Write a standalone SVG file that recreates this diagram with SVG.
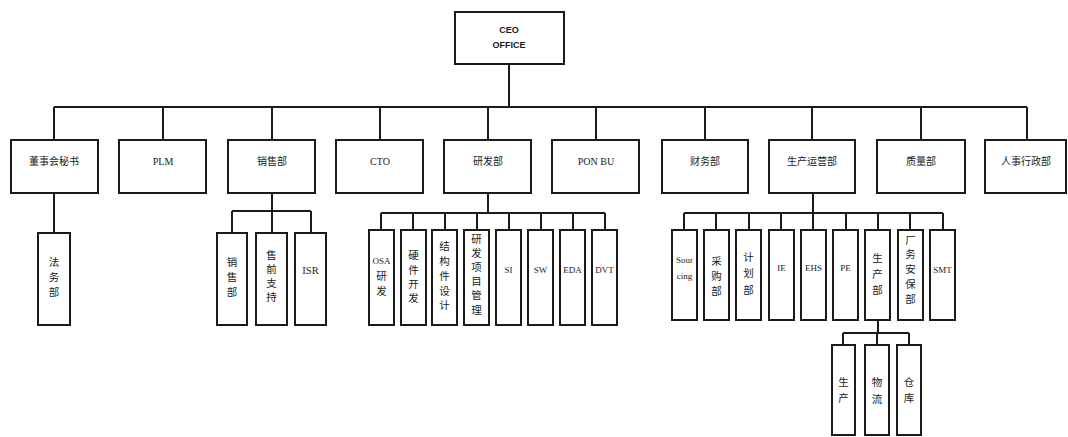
<svg xmlns="http://www.w3.org/2000/svg" width="1068" height="437" viewBox="0 0 1068 437">
<style>
.box{fill:#fff;stroke:#1a1a1a;stroke-width:2}
.ln{fill:none;stroke:#1a1a1a;stroke-width:2}
.t{font-family:"Liberation Serif","Noto Sans CJK SC",serif;font-size:10px;fill:#1a1a1a;text-anchor:middle;dominant-baseline:central}
.v{font-family:"Liberation Serif","Noto Sans CJK SC",serif;font-size:10.5px;fill:#1a1a1a;text-anchor:middle;dominant-baseline:central}
.s{font-size:9px}
.ceo{font-family:"Liberation Sans",sans-serif;font-size:9px;font-weight:bold;fill:#1a1a1a;text-anchor:middle;dominant-baseline:central}
</style>
<rect width="1068" height="437" fill="#fff"/>
<g id="connectors">
<path class="ln" d="M509 64V107M54 107H1027"/>
<path class="ln" d="M54 107V140M163 107V140M272 107V140M380 107V140M488 107V140M596 107V140M705 107V140M812 107V140M921 107V140M1027 107V140"/>
<path class="ln" d="M54 193V233"/>
<path class="ln" d="M272 193V211M232 211H311M232 211V233M272 211V233M311 211V233"/>
<path class="ln" d="M488 193V213M381 213H605M381 213V230M413 213V230M445 213V230M477 213V230M509 213V230M541 213V230M573 213V230M605 213V230"/>
<path class="ln" d="M813 193V213M684 213H943M684 213V230M716 213V230M749 213V230M781 213V230M813 213V230M846 213V230M878 213V230M910 213V230M943 213V230"/>
<path class="ln" d="M878 320V333M843 333H909M843 333V345M877 333V345M909 333V345"/>
</g>
<g id="ceo"><rect class="box" x="455" y="12" width="109" height="52"/><text class="ceo" x="509" y="30">CEO</text><text class="ceo" x="509" y="45">OFFICE</text></g>
<g id="n1"><rect class="box" x="11" y="140" width="87" height="53"/><text class="t" x="54" y="161">董事会秘书</text></g>
<g id="n2"><rect class="box" x="119" y="140" width="87" height="53"/><text class="t" x="163" y="161">PLM</text></g>
<g id="n3"><rect class="box" x="228" y="140" width="87" height="53"/><text class="t" x="272" y="161">销售部</text></g>
<g id="n4"><rect class="box" x="336" y="140" width="87" height="53"/><text class="t" x="380" y="161">CTO</text></g>
<g id="n5"><rect class="box" x="444" y="140" width="87" height="53"/><text class="t" x="488" y="161">研发部</text></g>
<g id="n6"><rect class="box" x="552" y="140" width="87" height="53"/><text class="t" x="596" y="161">PON BU</text></g>
<g id="n7"><rect class="box" x="662" y="140" width="86" height="53"/><text class="t" x="705" y="161">财务部</text></g>
<g id="n8"><rect class="box" x="769" y="140" width="86" height="53"/><text class="t" x="812" y="161">生产运营部</text></g>
<g id="n9"><rect class="box" x="877" y="140" width="88" height="53"/><text class="t" x="921" y="161">质量部</text></g>
<g id="n10"><rect class="box" x="985" y="140" width="81" height="53"/><text class="t" x="1026" y="161">人事行政部</text></g>
<g id="s-fw"><rect class="box" x="38" y="233" width="32" height="92"/><text class="v" x="54"><tspan x="54" y="262">法</tspan><tspan x="54" y="277">务</tspan><tspan x="54" y="292">部</tspan></text></g>
<g id="s-xs"><rect class="box" x="217" y="233" width="30" height="92"/><text class="v"><tspan x="232" y="262">销</tspan><tspan x="232" y="277">售</tspan><tspan x="232" y="292">部</tspan></text></g>
<g id="s-sq"><rect class="box" x="256" y="233" width="31" height="92"/><text class="v"><tspan x="271.5" y="255">售</tspan><tspan x="271.5" y="269">前</tspan><tspan x="271.5" y="283">支</tspan><tspan x="271.5" y="297">持</tspan></text></g>
<g id="s-isr"><rect class="box" x="295" y="233" width="31" height="92"/><text class="v" x="310.5" y="270">ISR</text></g>
<g id="r1"><rect class="box" x="369" y="230" width="25" height="95"/><text class="v"><tspan x="381.5" y="261" class="s">OSA</tspan><tspan x="381.5" y="276">研</tspan><tspan x="381.5" y="291">发</tspan></text></g>
<g id="r2"><rect class="box" x="401" y="230" width="25" height="95"/><text class="v"><tspan x="413.5" y="255">硬</tspan><tspan x="413.5" y="270">件</tspan><tspan x="413.5" y="284">开</tspan><tspan x="413.5" y="298">发</tspan></text></g>
<g id="r3"><rect class="box" x="432" y="230" width="25" height="95"/><text class="v"><tspan x="444.5" y="246">结</tspan><tspan x="444.5" y="261">构</tspan><tspan x="444.5" y="276">件</tspan><tspan x="444.5" y="291">设</tspan><tspan x="444.5" y="305">计</tspan></text></g>
<g id="r4"><rect class="box" x="464" y="230" width="25" height="95"/><text class="v"><tspan x="476.5" y="239">研</tspan><tspan x="476.5" y="253">发</tspan><tspan x="476.5" y="267">项</tspan><tspan x="476.5" y="281">目</tspan><tspan x="476.5" y="295">管</tspan><tspan x="476.5" y="310">理</tspan></text></g>
<g id="r5"><rect class="box" x="496" y="230" width="25" height="95"/><text class="v s" x="508.5" y="270">SI</text></g>
<g id="r6"><rect class="box" x="528" y="230" width="25" height="95"/><text class="v s" x="540.5" y="270">SW</text></g>
<g id="r7"><rect class="box" x="560" y="230" width="25" height="95"/><text class="v s" x="572.5" y="270">EDA</text></g>
<g id="r8"><rect class="box" x="592" y="230" width="25" height="95"/><text class="v s" x="604.5" y="270">DVT</text></g>
<g id="p1"><rect class="box" x="672" y="230" width="25" height="90"/><text class="v s"><tspan x="684.5" y="260">Sour</tspan><tspan x="684.5" y="276">cing</tspan></text></g>
<g id="p2"><rect class="box" x="704" y="230" width="25" height="90"/><text class="v"><tspan x="716.5" y="261">采</tspan><tspan x="716.5" y="276">购</tspan><tspan x="716.5" y="291">部</tspan></text></g>
<g id="p3"><rect class="box" x="736" y="230" width="25" height="90"/><text class="v"><tspan x="748.5" y="257">计</tspan><tspan x="748.5" y="273">划</tspan><tspan x="748.5" y="290">部</tspan></text></g>
<g id="p4"><rect class="box" x="769" y="230" width="25" height="90"/><text class="v s" x="781.5" y="268">IE</text></g>
<g id="p5"><rect class="box" x="801" y="230" width="25" height="90"/><text class="v s" x="813.5" y="268">EHS</text></g>
<g id="p6"><rect class="box" x="833" y="230" width="25" height="90"/><text class="v s" x="845.5" y="268">PE</text></g>
<g id="p7"><rect class="box" x="865" y="230" width="25" height="90"/><text class="v"><tspan x="877.5" y="258">生</tspan><tspan x="877.5" y="274">产</tspan><tspan x="877.5" y="290">部</tspan></text></g>
<g id="p8"><rect class="box" x="898" y="230" width="25" height="90"/><text class="v"><tspan x="910.5" y="240">厂</tspan><tspan x="910.5" y="254">务</tspan><tspan x="910.5" y="269">安</tspan><tspan x="910.5" y="284">保</tspan><tspan x="910.5" y="299">部</tspan></text></g>
<g id="p9"><rect class="box" x="930" y="230" width="25" height="90"/><text class="v s" x="942.5" y="270">SMT</text></g>
<g id="q1"><rect class="box" x="832" y="345" width="23" height="90"/><text class="v"><tspan x="843.5" y="382">生</tspan><tspan x="843.5" y="398">产</tspan></text></g>
<g id="q2"><rect class="box" x="865" y="345" width="24" height="90"/><text class="v"><tspan x="877" y="382">物</tspan><tspan x="877" y="399">流</tspan></text></g>
<g id="q3"><rect class="box" x="897" y="345" width="24" height="90"/><text class="v"><tspan x="909" y="382">仓</tspan><tspan x="909" y="398">库</tspan></text></g>
</svg>
